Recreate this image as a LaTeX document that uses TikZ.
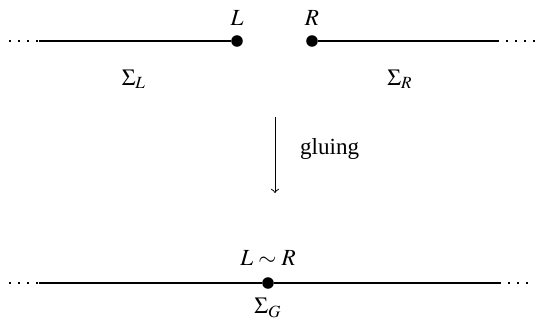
\documentclass[tikz,border=0pt]{standalone}
\usepackage{mathptmx}
\usepackage{fontspec}
\setmainfont{Liberation Serif}

\begin{document}
\begin{tikzpicture}[x=0.433pt, y=-0.433pt, font=\normalsize]
  % pixel grid of the reference, y running down
  \useasboundingbox (0,0) rectangle (535,331);
  \tikzset{
    seg/.style={line width=0.9pt},
    tail/.style={line width=0.9pt, dash pattern=on 0.9pt off 3pt},
    pt/.style={circle, fill, inner sep=0pt, minimum size=5pt},
    glue/.style={line width=0.4pt, -to}}

  % ========== before: the two halves ==========
  \coordinate (Lfar)   at (9,41);
  \coordinate (Lstart) at (39,41);
  \node[pt] (L) at (237,41) {};
  \node[pt] (R) at (312,41) {};
  \coordinate (Rend) at (497,41);
  \coordinate (Rfar) at (535,41);
  \draw[tail] (Lfar) -- (Lstart);
  \draw[seg]  (Lstart) -- (L);
  \draw[seg]  (R) -- (Rend);
  \draw[tail] (Rend) -- (Rfar);
  \node (Ltxt) at (237,18) {$L$};
  \node (Rtxt) at (312,18) {$R$};
  \node (SigL) at (134,79) {$\Sigma_L$};
  \node (SigR) at (400,79) {$\Sigma_R$};

  % ========== the gluing map ==========
  \coordinate (top) at (275,117);
  \coordinate (bot) at (275,193);
  \draw[glue] (top) -- (bot);
  \node[anchor=west] (gl) at (292,149) {gluing};

  % ========== after: the glued line ==========
  \coordinate (Gfar)   at (9,283);
  \coordinate (Gstart) at (39,283);
  \node[pt] (G) at (268,283) {};
  \coordinate (Gend) at (499,283);
  \coordinate (Gfar2) at (535,283);
  \draw[tail] (Gfar) -- (Gstart);
  \draw[seg]  (Gstart) -- (G) -- (Gend);
  \draw[tail] (Gend) -- (Gfar2);
  \node (Gtxt) at (268,258) {$L\sim R$};
  \node (SigG) at (268,308) {$\Sigma_G$};
\end{tikzpicture}
\end{document}
